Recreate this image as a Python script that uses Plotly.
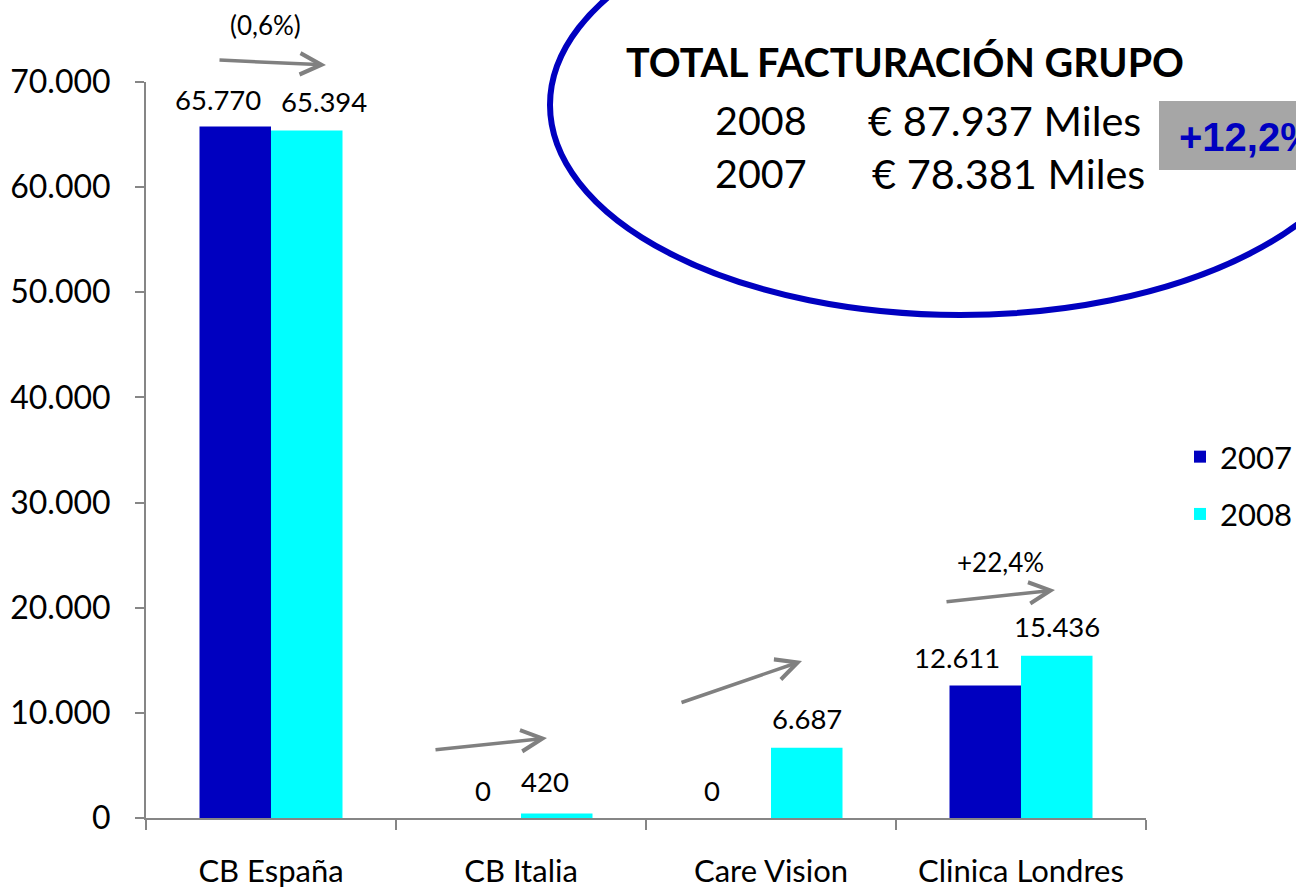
import plotly.graph_objects as go

categories = ["CB España", "CB Italia", "Care Vision", "Clinica Londres"]
values_2007 = [65770, 0, 0, 12611]
values_2008 = [65394, 420, 6687, 15436]
label_2007 = ["65.770", "0", "0", "12.611"]
label_2008 = ["65.394", "420", "6.687", "15.436"]
tick_vals = [0, 10000, 20000, 30000, 40000, 50000, 60000, 70000]
tick_text = ["0", "10.000", "20.000", "30.000", "40.000", "50.000", "60.000", "70.000"]

# label placement offsets in pixels (style only)
shift_2007 = [-53, -38, -59, -64]
shift_2008 = [53, 24, 36, 36]
lift_2007 = [27, 28, 28, 28]
lift_2008 = [29, 32, 29, 29]

C2007 = "#0000C0"
C2008 = "#00FFFF"
GRAY = "#868686"
ARROW = "#808080"
FONT = "Lato"

fig = go.Figure()
fig.add_trace(go.Bar(name="2007", x=categories, y=values_2007, marker_color=C2007,
                     marker_line_width=0, legendgroup="a"))
fig.add_trace(go.Bar(name="2008", x=categories, y=values_2008, marker_color=C2008,
                     marker_line_width=0, legendgroup="b"))

annotations = []
for i, c in enumerate(categories):
    annotations.append(dict(x=c, y=values_2007[i], text=label_2007[i], showarrow=False,
                            xref="x", yref="y", xshift=shift_2007[i], yshift=lift_2007[i],
                            xanchor="center", yanchor="middle",
                            font=dict(family=FONT, size=27.5, color="black")))
    annotations.append(dict(x=c, y=values_2008[i], text=label_2008[i], showarrow=False,
                            xref="x", yref="y", xshift=shift_2008[i], yshift=lift_2008[i],
                            xanchor="center", yanchor="middle",
                            font=dict(family=FONT, size=27.5, color="black")))


# paper coords helpers (x 0->146px, 1->1146px; y 0->818px, 1->82px)
def px(xp):
    return (xp - 146) / 1000.0


def py(yp):
    return (818 - yp) / 736.0


arrow_style = dict(text="", showarrow=True, arrowhead=5, arrowsize=1.2,
                   arrowwidth=3.5, arrowcolor=ARROW)

# first arrow lies above the axis range -> paper coordinates
annotations.append(dict(x=px(326), y=py(65), xref="paper", yref="paper",
                        ax=-108, ay=-5, **arrow_style))
# other growth arrows (tail -> head, in axis coordinates)
arrows = [
    ((0.652, 6468), (1.104, 7609)),
    ((1.636, 10938), (2.124, 14933)),
    ((2.696, 20544), (3.136, 21685)),
]
for (tx, ty), (hx, hy) in arrows:
    annotations.append(dict(x=hx, y=hy, ax=tx, ay=ty, xref="x", yref="y",
                            axref="x", ayref="y", **arrow_style))

annotations.append(dict(x=px(265), y=py(25), xref="paper", yref="paper", text="(0,6%)",
                        showarrow=False, xanchor="center", yanchor="middle",
                        font=dict(family=FONT, size=26, color="black")))
annotations.append(dict(x=2.916, y=24349, xref="x", yref="y", text="+22,4%", showarrow=False,
                        xanchor="center", yanchor="middle",
                        font=dict(family=FONT, size=26, color="black")))

annotations.append(dict(x=px(905), y=py(62), xref="paper", yref="paper",
                        xanchor="center", yanchor="middle",
                        text="<b>TOTAL FACTURACIÓN GRUPO</b>", showarrow=False,
                        font=dict(family=FONT, size=39.5, color="black")))
for txt, xx, yy, sz in [("2008", 713, 120, 39.5), ("€ 87.937 Miles", 866, 120, 41.5),
                        ("2007", 713, 173, 39.5), ("€ 78.381 Miles", 870, 173, 41.5)]:
    annotations.append(dict(x=px(xx), y=py(yy), xref="paper", yref="paper", xanchor="left",
                            yanchor="middle", text=txt, showarrow=False,
                            font=dict(family=FONT, size=sz, color="black")))
annotations.append(dict(x=px(1177), y=py(137), xref="paper", yref="paper", xanchor="left",
                        yanchor="middle", text="<b>+12,2%</b>", showarrow=False,
                        font=dict(family="Liberation Sans", size=40, color=C2007)))

shapes = [
    dict(type="circle", xref="paper", yref="paper", x0=px(550), x1=px(1370),
         y0=py(-105), y1=py(315), line=dict(color=C2007, width=6), fillcolor="rgba(0,0,0,0)",
         layer="below"),
    dict(type="rect", xref="paper", yref="paper", x0=px(1159), x1=px(1400),
         y0=py(170), y1=py(101), line=dict(width=0), fillcolor="#A6A6A6", layer="below"),
]

fig.update_layout(
    width=1296, height=891,
    margin=dict(l=146, r=150, t=82, b=73, pad=0, autoexpand=False),
    paper_bgcolor="white", plot_bgcolor="white",
    barmode="group", bargap=0.428, bargroupgap=0,
    showlegend=True,
    legend=dict(xref="container", yref="container", x=1180 / 1296, y=1 - 430 / 891,
                xanchor="left", yanchor="top",
                font=dict(family=FONT, size=31, color="black"), tracegroupgap=14,
                bgcolor="rgba(0,0,0,0)"),
    font=dict(family=FONT, color="black"),
    annotations=annotations,
    shapes=shapes,
    xaxis=dict(type="category", showgrid=False, showline=True, linecolor=GRAY, linewidth=2,
               ticks="outside", tickson="boundaries", ticklen=10, tickcolor=GRAY, tickwidth=1.5,
               tickfont=dict(family=FONT, size=31, color="black"), ticklabelstandoff=25,
               automargin=False),
    yaxis=dict(range=[0, 70000], showgrid=False, showline=True, linecolor=GRAY, linewidth=2,
               ticks="outside", ticklen=9, tickcolor=GRAY, tickwidth=1.5,
               tickvals=tick_vals, ticktext=tick_text, zeroline=False,
               tickfont=dict(family=FONT, size=32, color="black"), ticklabelstandoff=18,
               automargin=False),
)

fig.write_html("out.html", config={"displayModeBar": False},
               post_script="document.body.style.margin='0';document.body.style.overflow='hidden';")
